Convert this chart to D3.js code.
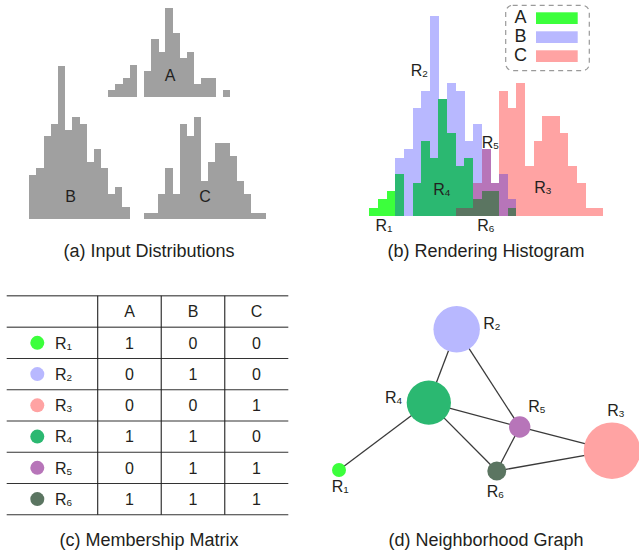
<!DOCTYPE html>
<html>
<head>
<meta charset="utf-8">
<script src="https://cdn.jsdelivr.net/npm/d3@7/dist/d3.min.js"></script>
<style>
  body { margin: 0; background: #fff; }
  text { font-family: Arial, "Liberation Sans", sans-serif; fill: #231f20; }
</style>
</head>
<body>
<svg id="fig" width="639" height="554"></svg>
<script>
// ---- data ----
var sets = ['A', 'B', 'C'];
var regions = ['R1', 'R2', 'R3', 'R4', 'R5', 'R6'];
var membership = [
  [1, 0, 0],
  [0, 1, 0],
  [0, 0, 1],
  [1, 1, 0],
  [0, 1, 1],
  [1, 1, 1]
];
// counts per histogram bin (27 shared bins)
var countsA = [1, 2, 3, 5, 0, 4, 9, 7, 14, 10, 6, 7, 2, 3, 3, 0, 1, 0, 0, 0, 0, 0, 0, 0, 0, 0, 0];
var countsB = [0, 0, 0, 7, 8, 13, 15, 24, 14, 16, 15, 9, 11, 8, 4, 5, 2, 0, 0, 0, 0, 0, 0, 0, 0, 0, 0];
var countsC = [0, 0, 0, 0, 0, 0, 0, 0, 0, 0, 1, 1, 4, 8, 4, 15, 13, 16, 6, 9, 12, 12, 10, 6, 4, 1, 1];
var edges = [['R2', 'R4'], ['R2', 'R5'], ['R4', 'R5'], ['R4', 'R1'], ['R4', 'R6'], ['R5', 'R6'], ['R5', 'R3'], ['R6', 'R3']];
var captions = ['(a) Input Distributions', '(b) Rendering Histogram', '(c) Membership Matrix', '(d) Neighborhood Graph'];

var setColor = { A: '#3cff3c', B: '#b8b8ff', C: '#ffa3a3' };
var regionColor = { R1: '#3cff3c', R2: '#b8b8ff', R3: '#ffa3a3', R4: '#2bb871', R5: '#b775b9', R6: '#5b7561' };

var svg = d3.select('#fig');
var nBins = countsA.length;
var counts = [countsA, countsB, countsC];

function rLabel(g, name, x, y, size, anchor) {
  var t = g.append('text')
      .attr('x', x)
      .attr('y', y)
      .attr('font-size', size)
      .attr('text-anchor', anchor || 'start');
  t.append('tspan').text(name[0]);
  t.append('tspan').attr('font-size', size * 0.62).attr('dy', 1).text(name.slice(1));
  return t;
}

// ---- (a) input distributions ----
var gA = svg.append('g');
var binW = 7.14;
var aLayout = {
  A: { x0: 108.3, first: 0, base: 96.7, lx: 170, ly: 80.7 },
  B: { x0: 29.3, first: 3, base: 219.3, lx: 70.5, ly: 202.3 },
  C: { x0: 144, first: 10, base: 219.3, lx: 205, ly: 202.3 }
};
var aY = d3.scaleLinear().domain([0, 1]).range([0, 6.37]);

sets.forEach(function(s, si) {
  var L = aLayout[s];
  var x = d3.scaleLinear().domain([L.first, L.first + 1]).range([L.x0, L.x0 + binW]);
  gA.selectAll('rect.' + s)
    .data(counts[si].map(function(v, i) { return { i: i, v: v }; }).filter(function(d) { return d.v > 0; }))
    .enter().append('rect')
      .attr('class', s)
      .attr('x', function(d) { return x(d.i); })
      .attr('width', binW + 0.3)
      .attr('y', function(d) { return L.base - aY(d.v); })
      .attr('height', function(d) { return aY(d.v); })
      .attr('fill', '#a0a0a0')
      .attr('shape-rendering', 'crispEdges');
  gA.append('text')
    .attr('x', L.lx).attr('y', L.ly)
    .attr('text-anchor', 'middle')
    .attr('font-size', 16)
    .text(s);
});

// ---- (b) rendering histogram ----
var segs = [];
d3.range(nBins).forEach(function(i) {
  var vals = counts.map(function(c) { return c[i]; });
  var levels = Array.from(new Set(vals.filter(function(v) { return v > 0; }))).sort(d3.ascending);
  var prev = 0;
  levels.forEach(function(h) {
    var key = vals.map(function(v) { return v >= h ? 1 : 0; }).join('');
    var ri = membership.findIndex(function(m) { return m.join('') === key; });
    segs.push({ bin: i, y0: prev, y1: h, region: regions[ri] });
    prev = h;
  });
});

var bX = d3.scaleLinear().domain([0, nBins]).range([369.3, 602.7]);
var bY = d3.scaleLinear().domain([0, 24]).range([216, 16]);
var gB = svg.append('g');
gB.selectAll('rect')
  .data(segs)
  .enter().append('rect')
    .attr('x', function(d) { return bX(d.bin); })
    .attr('width', bX(1) - bX(0) + 0.3)
    .attr('y', function(d) { return bY(d.y1); })
    .attr('height', function(d) { return bY(d.y0) - bY(d.y1); })
    .attr('fill', function(d) { return regionColor[d.region]; })
    .attr('shape-rendering', 'crispEdges');

var bLabelPos = {
  R1: [375.5, 230.5], R2: [410.7, 76], R3: [534.3, 193.3],
  R4: [433.3, 195], R5: [481.7, 148.3], R6: [477.3, 230.5]
};
regions.forEach(function(r) {
  rLabel(gB, r, bLabelPos[r][0], bLabelPos[r][1], 16);
});

// legend
var leg = gB.append('g');
leg.append('rect')
  .attr('x', 505.7).attr('y', 5.3)
  .attr('width', 83.6).attr('height', 65.4)
  .attr('rx', 7)
  .attr('fill', 'none')
  .attr('stroke', '#9a9a9a')
  .attr('stroke-width', 1.2)
  .attr('stroke-dasharray', '5,4');
var legY = d3.scaleBand().domain(sets).range([12.3, 69.3]);
sets.forEach(function(s) {
  leg.append('text')
    .attr('x', 520.5).attr('y', legY(s) + 10.6)
    .attr('text-anchor', 'middle')
    .attr('font-size', 18)
    .text(s);
  leg.append('rect')
    .attr('x', 536).attr('y', legY(s))
    .attr('width', 41.7).attr('height', 11.7)
    .attr('fill', setColor[s]);
});

// ---- (c) membership matrix ----
var gC = svg.append('g');
var tLeft = 6.7, tRight = 288.3, tTop = 295.7, headBottom = 327.2, rowH = 31.25;
var colX = d3.scaleBand().domain(sets).range([97.7, tRight]);
var rowY = d3.scaleBand().domain(regions).range([headBottom, headBottom + rowH * regions.length]);
var tBottom = headBottom + rowH * regions.length;

[tTop, headBottom].concat(regions.map(function(r) { return rowY(r) + rowH; })).forEach(function(y, i) {
  gC.append('line')
    .attr('x1', tLeft).attr('x2', tRight)
    .attr('y1', y).attr('y2', y)
    .attr('stroke', i < 2 ? '#6a6a6a' : '#333')
    .attr('stroke-width', i < 2 ? 1.4 : 1.1);
});
sets.forEach(function(s) {
  gC.append('line')
    .attr('x1', colX(s)).attr('x2', colX(s))
    .attr('y1', tTop).attr('y2', tBottom)
    .attr('stroke', '#222')
    .attr('stroke-width', 1.1);
  gC.append('text')
    .attr('x', colX(s) + colX.bandwidth() / 2)
    .attr('y', (tTop + headBottom) / 2 + 5.8)
    .attr('text-anchor', 'middle')
    .attr('font-size', 16)
    .text(s);
});
regions.forEach(function(r, ri) {
  var cy = rowY(r) + rowH / 2;
  gC.append('circle')
    .attr('cx', 37.3).attr('cy', cy).attr('r', 7)
    .attr('fill', regionColor[r]);
  rLabel(gC, r, 55, cy + 5.8, 16);
  sets.forEach(function(s, si) {
    gC.append('text')
      .attr('x', colX(s) + colX.bandwidth() / 2)
      .attr('y', cy + 5.8)
      .attr('text-anchor', 'middle')
      .attr('font-size', 16)
      .text(membership[ri][si]);
  });
});

// ---- (d) neighborhood graph ----
var gD = svg.append('g');
var area = {};
segs.forEach(function(d) { area[d.region] = (area[d.region] || 0) + (d.y1 - d.y0); });
var rScale = d3.scaleSqrt().domain([0, d3.max(regions, function(r) { return area[r]; })]).range([0, 28.3]);

// hand layout, in graph units
var nodeLayout = {
  R1: [0, 100], R2: [43.1, 0], R3: [100, 86.3],
  R4: [32.9, 52.1], R5: [66.2, 69.4], R6: [57.8, 100.7]
};
var gx = d3.scaleLinear().domain([0, 100]).range([339, 612]);
var gy = d3.scaleLinear().domain([0, 100]).range([329.3, 470]);
function nx(r) { return gx(nodeLayout[r][0]); }
function ny(r) { return gy(nodeLayout[r][1]); }

gD.selectAll('line')
  .data(edges)
  .enter().append('line')
    .attr('x1', function(d) { return nx(d[0]); })
    .attr('y1', function(d) { return ny(d[0]); })
    .attr('x2', function(d) { return nx(d[1]); })
    .attr('y2', function(d) { return ny(d[1]); })
    .attr('stroke', '#3a3a3a')
    .attr('stroke-width', 1.3);

gD.selectAll('circle')
  .data(regions)
  .enter().append('circle')
    .attr('cx', nx)
    .attr('cy', ny)
    .attr('r', function(r) { return rScale(area[r]); })
    .attr('fill', function(r) { return regionColor[r]; });

var dLabelPos = {
  R1: [331.7, 491.7], R2: [483.3, 329], R3: [607.3, 416],
  R4: [385, 403.3], R5: [528.3, 411.7], R6: [486.7, 497.3]
};
regions.forEach(function(r) {
  rLabel(gD, r, dLabelPos[r][0], dLabelPos[r][1], 16);
});

// ---- captions ----
var capPos = [[149, 257], [486, 257], [149, 546], [486, 546]];
captions.forEach(function(c, i) {
  svg.append('text')
    .attr('x', capPos[i][0]).attr('y', capPos[i][1])
    .attr('text-anchor', 'middle')
    .attr('font-size', 18)
    .text(c);
});
</script>
</body>
</html>
